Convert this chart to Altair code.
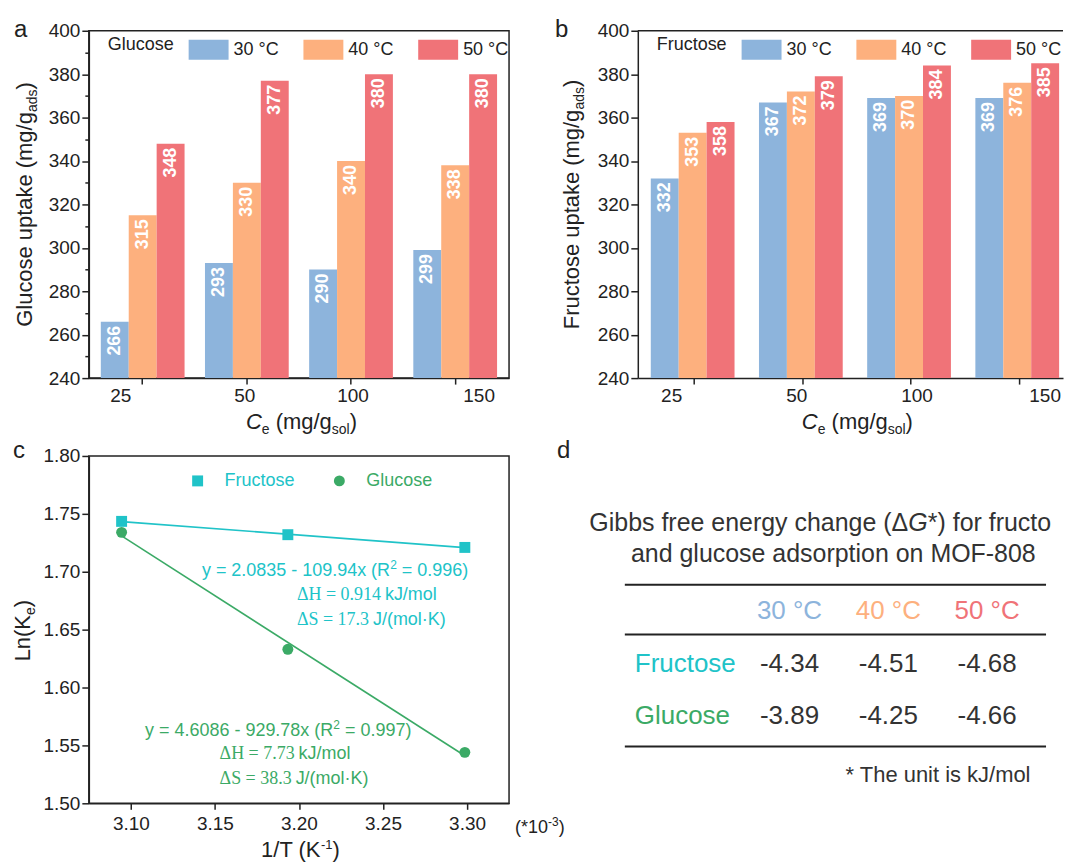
import altair as alt
import pandas as pd

# ------------------------------------------------------------------ data
concentrations = ["25", "50", "100", "150"]
temperatures = ["30 °C", "40 °C", "50 °C"]
glucose_30 = [266, 293, 290, 299]
glucose_40 = [315, 330, 340, 338]
glucose_50 = [348, 377, 380, 380]
fructose_30 = [332, 367, 369, 369]
fructose_40 = [353, 372, 370, 376]
fructose_50 = [358, 379, 384, 385]

inv_T = [3.0945, 3.1934, 3.2987]
lnK_fructose = [1.7435, 1.7320, 1.7210]
lnK_glucose = [1.7340, 1.6330, 1.5440]

sugars = ["Fructose", "Glucose"]
dG_fructose = [-4.34, -4.51, -4.68]
dG_glucose = [-3.89, -4.25, -4.66]

uptake_ticks = list(range(240, 401, 10))
invT_ticks = [3.10, 3.15, 3.20, 3.25, 3.30]
lnK_ticks = [round(1.5 + 0.025 * i, 3) for i in range(13)]

# ------------------------------------------------------------------ style
SANS = "Liberation Sans"
SERIF = "Liberation Serif"
INK = "#222222"
TEMP_COLORS = ["#8DB4DC", "#FDB07E", "#F07378"]
SUGAR_COLORS = ["#20C3C8", "#3BAA66"]
TICK_FS = 19
A_LABEL_SHIFT = [-22, -2, 2, 24]
B_LABEL_SHIFT = [-23, -6, 6, 26]

AR = {c: 556 for c in "0123456789"}
AR.update({' ': 278, '(': 333, ')': 333, '*': 389, '-': 333, '.': 278, '/': 278,
           '=': 584, '·': 278, '°': 400, 'Δ': 668, ':': 278})
AR.update(dict(zip("ABCDEFGHIJKLMNOPQRSTUVWXYZ",
                   [667, 667, 722, 722, 667, 611, 778, 722, 278, 500, 667, 556, 833,
                    722, 778, 667, 778, 722, 667, 611, 722, 667, 944, 667, 667, 611])))
AR.update(dict(zip("abcdefghijklmnopqrstuvwxyz",
                   [556, 556, 500, 556, 556, 278, 556, 556, 222, 222, 500, 222, 833,
                    556, 556, 556, 556, 333, 500, 278, 556, 500, 722, 500, 500, 500])))
TR = {c: 500 for c in "0123456789"}
TR.update({' ': 250, '.': 250, '=': 564, 'Δ': 612, 'H': 722, 'S': 556, '(': 333,
           ')': 333, '-': 333, 'C': 667, 'K': 722, '°': 400, '/': 278, '·': 250})

DUMMY = pd.DataFrame({"k": [0]})


def tw(s, size, font=SANS):
    table = TR if font == SERIF else AR
    dflt = 500 if font == SERIF else 556
    return sum(table.get(c, dflt) for c in s) * size / 1000.0


def seg(text, size, **kw):
    d = {"text": text, "size": size}
    d.update(kw)
    return d


def rich(segs, x, y, anchor="left", angle=0, color=INK, clip_at=None, x_rel=None):
    widths = [tw(s["text"], s["size"], s.get("font", SANS)) for s in segs]
    total = sum(widths)
    cur = {"left": 0.0, "center": -total / 2.0, "right": -total}[anchor]
    out = []
    for s, w in zip(segs, widths):
        font = s.get("font", SANS)
        body = s["text"].lstrip(" ")
        lead = tw(s["text"][:len(s["text"]) - len(body)], s["size"], font)
        start = cur + lead
        kw = dict(text=body, align="left", baseline="alphabetic",
                  dx=round(start, 2), dy=s.get("shift", 0), font=font,
                  fontSize=s["size"], color=s.get("color", color))
        if angle:
            kw["angle"] = angle
        if s.get("style"):
            kw["fontStyle"] = s["style"]
        if clip_at is not None and x_rel is not None:
            avail = clip_at - (x_rel + start)
            if avail < w - lead:
                kw["limit"] = max(round(avail, 1), 1)
                kw["ellipsis"] = "\u200b"
        out.append(alt.Chart(DUMMY).mark_text(**kw).encode(x=x, y=y))
        cur += w
    return out


def uptake_df(s30, s40, s50):
    rows = []
    for t, ser in zip(temperatures, [s30, s40, s50]):
        for c, v in zip(concentrations, ser):
            rows.append({"conc": c, "temp": t, "uptake": v})
    return pd.DataFrame(rows)


def uptake_y_axis():
    return alt.Axis(values=uptake_ticks,
                    labelExpr="datum.value % 20 == 0 ? datum.label : ''",
                    tickSize={"condition": {"test": "datum.value % 20 != 0", "value": 4}, "value": 7},
                    title=None, grid=False, labelOverlap=False, labelFlush=False, labelPadding=2)


def label_shift(shifts):
    return {"condition": [{"test": f"datum.label == '{c}'", "value": s}
                          for c, s in zip(concentrations, shifts)],
            "value": 0}


def bar_layers(df, xscale, legend_title, legend_x, legend_y, shifts):
    enc = dict(
        x=alt.X("conc:N", sort=concentrations, scale=xscale,
                axis=alt.Axis(title=None, labelAngle=0, tickSize=6, labelPadding=2, grid=False,
                              labelOffset=label_shift(shifts))),
        xOffset=alt.XOffset("temp:N", sort=temperatures,
                            scale=alt.Scale(paddingInner=0, paddingOuter=0)),
        y=alt.Y("uptake:Q", scale=alt.Scale(domain=[240, 400], nice=False, zero=False),
                axis=uptake_y_axis()),
    )
    legend = alt.Legend(title=legend_title, orient="none", legendX=legend_x, legendY=legend_y,
                        direction="horizontal", titleOrient="left", titleFont=SANS,
                        titleFontSize=18, titleFontWeight="normal", titleColor=INK,
                        titlePadding=14, titleBaseline="middle", titleAnchor="middle",
                        labelFont=SANS, labelFontSize=18, labelColor=INK,
                        labelOffset=5, columnPadding=24, symbolType="M-1,-0.5H1V0.5H-1Z",
                        symbolSize=1600, symbolStrokeWidth=0, symbolOpacity=1, padding=0)
    bars = alt.Chart(df).mark_bar(opacity=1).encode(
        **enc, y2=alt.datum(240),
        color=alt.Color("temp:N", sort=temperatures,
                        scale=alt.Scale(domain=temperatures, range=TEMP_COLORS), legend=legend))
    labels = alt.Chart(df).mark_text(angle=270, align="right", baseline="middle", dx=-4,
                                     font=SANS, fontSize=18, fontWeight="bold",
                                     color="white").encode(
        **enc, text=alt.Text("uptake:Q", format="d"))
    return [bars, labels]


def ce_title(cx, by):
    return rich([seg("C", 22, style="italic"), seg("e", 14, shift=5), seg(" (mg/g", 22),
                 seg("sol", 14, shift=5), seg(")", 22)],
                alt.value(cx), alt.value(by), anchor="center")


def uptake_title(name, bx, cy):
    return rich([seg(f"{name} uptake (mg/g", 22), seg("ads", 14, shift=5), seg(")", 22)],
                alt.value(bx), alt.value(cy), anchor="center", angle=270)


def letter(t, x, y):
    return rich([seg(t, 24)], alt.value(x), alt.value(y))


# ------------------------------------------------------------------ panel a
origin = alt.Chart(DUMMY).mark_rect(opacity=0).encode(
    x=alt.value(-88), x2=alt.value(-87), y=alt.value(-29), y2=alt.value(-28))

a_layers = (bar_layers(uptake_df(glucose_30, glucose_40, glucose_50),
                       alt.Scale(paddingInner=0.196, paddingOuter=0.115),
                       "Glucose", 19, -1, A_LABEL_SHIFT)
            + letter("a", -75, 6)
            + uptake_title("Glucose", -57, 174)
            + ce_title(213, 399)
            + [origin])
chart_a = alt.layer(*a_layers).properties(
    width=421, height=348, view=alt.ViewBackground(stroke=INK, strokeWidth=1.5))

# ------------------------------------------------------------------ panel b
top_rule = alt.Chart(DUMMY).mark_rule(color=INK, strokeWidth=1.5).encode(y=alt.datum(400))
b_layers = (bar_layers(uptake_df(fructose_30, fructose_40, fructose_50),
                       alt.Scale(paddingInner=0.19, paddingOuter=0.06, align=1),
                       "Fructose", 19, -1, B_LABEL_SHIFT)
            + [top_rule]
            + letter("b", -83, 6)
            + uptake_title("Fructose", -59, 174)
            + ce_title(220, 399))
chart_b = alt.layer(*b_layers).properties(width=426, height=348)

# ------------------------------------------------------------------ panel c
pts = pd.DataFrame({"sugar": ["Fructose"] * 3 + ["Glucose"] * 3,
                    "invT": inv_T * 2,
                    "lnK": lnK_fructose + lnK_glucose})
xc = alt.X("invT:Q", scale=alt.Scale(domain=[3.075, 3.325], nice=False, zero=False),
           axis=alt.Axis(values=invT_ticks, format=".2f", title=None, tickSize=6,
                         labelPadding=5, labelFlush=False, grid=False))
yc = alt.Y("lnK:Q", scale=alt.Scale(domain=[1.50, 1.80], nice=False, zero=False),
           axis=alt.Axis(values=lnK_ticks,
                         labelExpr="round(datum.value*40) % 2 == 0 ? format(datum.value, '.2f') : ''",
                         tickSize={"condition": {"test": "round(datum.value*40) % 2 != 0", "value": 4},
                                   "value": 7},
                         title=None, labelPadding=2, labelOverlap=False, labelFlush=False,
                         grid=False))
fit_lines = [alt.Chart(pts).transform_filter(alt.datum.sugar == s)
             .transform_regression("invT", "lnK")
             .mark_line(color=col, strokeWidth=1.6).encode(x=xc, y=yc)
             for s, col in zip(sugars, SUGAR_COLORS)]
c_legend = alt.Legend(title=None, orient="none", legendX=100, legendY=16, direction="horizontal",
                      labelFont=SANS, labelFontSize=18, labelOffset=18, columnPadding=35,
                      labelColor={"expr": "datum.label == 'Fructose' ? '#20C3C8' : '#3BAA66'"},
                      symbolSize=120, symbolStrokeWidth=0, symbolOpacity=1, padding=0)
points = alt.Chart(pts).mark_point(filled=True, size=120, opacity=1).encode(
    x=xc, y=yc,
    color=alt.Color("sugar:N", scale=alt.Scale(domain=sugars, range=SUGAR_COLORS), legend=c_legend),
    shape=alt.Shape("sugar:N", scale=alt.Scale(domain=sugars, range=["square", "circle"]),
                    legend=c_legend))

FC, GC = SUGAR_COLORS
c_notes = (
    rich([seg("y = 2.0835 - 109.94x (R", 18), seg("2", 12, shift=-7), seg(" = 0.996)", 18)],
         alt.datum(3.2215), alt.datum(1.6966), anchor="center", color=FC)
    + rich([seg("ΔH = 0.914 ", 18, font=SERIF), seg("kJ/mol", 18)],
           alt.datum(3.1988), alt.datum(1.6759), color=FC)
    + rich([seg("ΔS = 17.3 ", 18, font=SERIF), seg("J/(mol·K)", 18)],
           alt.datum(3.1988), alt.datum(1.6543), color=FC)
    + rich([seg("y = 4.6086 - 929.78x (R", 18), seg("2", 12, shift=-7), seg(" = 0.997)", 18)],
           alt.datum(3.1877), alt.datum(1.5578), anchor="center", color=GC)
    + rich([seg("ΔH = 7.73 ", 18, font=SERIF), seg("kJ/mol", 18)],
           alt.datum(3.1528), alt.datum(1.5379), color=GC)
    + rich([seg("ΔS = 38.3 ", 18, font=SERIF), seg("J/(mol·K)", 18)],
           alt.datum(3.1528), alt.datum(1.5164), color=GC)
)
c_layers = (fit_lines + [points] + c_notes
            + letter("c", -76, 2)
            + rich([seg("Ln(K", 22), seg("e", 14, shift=5), seg(")", 22)],
                   alt.value(-59), alt.value(175), anchor="center", angle=270)
            + rich([seg("1/T (K", 22), seg("-1", 13, shift=-8), seg(")", 22)],
                   alt.value(212), alt.value(402), anchor="center")
            + rich([seg("(*10", 18), seg("-3", 12, shift=-7), seg(")", 18)],
                   alt.value(427), alt.value(378)))
chart_c = alt.layer(*c_layers).properties(
    width=421, height=348, view=alt.ViewBackground(stroke=INK, strokeWidth=1.5))

# ------------------------------------------------------------------ panel d (table)
HEADER = "T"
row_order = [HEADER] + sugars
cells = pd.DataFrame({"row": [sugars[0]] * 3 + [sugars[1]] * 3,
                      "temp": temperatures * 2,
                      "dG": dG_fructose + dG_glucose})
heads = pd.DataFrame({"row": [HEADER] * 3, "temp": temperatures})
rowlab = pd.DataFrame({"row": sugars})

xd = alt.X("temp:N", sort=temperatures,
           scale=alt.Scale(domain=temperatures, range=[152, 350], padding=0), axis=None)
yd = alt.Y("row:N", sort=row_order,
           scale=alt.Scale(domain=row_order, range=[155, 261], padding=0), axis=None)

head_txt = alt.Chart(heads).mark_text(font=SANS, fontSize=26, align="center",
                                      baseline="middle").encode(
    x=xd, y=yd, text="temp:N",
    color=alt.Color("temp:N", scale=alt.Scale(domain=temperatures, range=TEMP_COLORS),
                    legend=None))
val_txt = alt.Chart(cells).transform_calculate(
    lbl="replace(format(datum.dG, '.2f'), '\u2212', '-')"
).mark_text(font=SANS, fontSize=26, align="center", baseline="middle",
            color="#333333").encode(x=xd, y=yd, text="lbl:N")
lab_txt = alt.Chart(rowlab).mark_text(font=SANS, fontSize=26, align="left",
                                      baseline="middle").encode(
    x=alt.value(-3), y=yd, text="row:N",
    color=alt.Color("row:N", scale=alt.Scale(domain=sugars, range=SUGAR_COLORS), legend=None))
rules = [alt.Chart(DUMMY).mark_rule(color=INK, strokeWidth=2).encode(
    x=alt.value(-13), x2=alt.value(409), y=alt.value(yy)) for yy in (129, 179, 291)]

d_layers = ([head_txt, val_txt, lab_txt] + rules
            + letter("d", -81, 2)
            + rich([seg("Gibbs free energy change (Δ", 25), seg("G", 25, style="italic"),
                    seg("*) for fructose", 25)],
                   alt.value(196), alt.value(75), anchor="center", color="#333333",
                   clip_at=426, x_rel=196)
            + rich([seg("and glucose adsorption on MOF-808", 25)],
                   alt.value(196), alt.value(106), anchor="center", color="#333333")
            + rich([seg("* The unit is kJ/mol", 22)], alt.value(394), alt.value(327),
                   anchor="right", color="#333333"))
chart_d = alt.layer(*d_layers).resolve_scale(color="independent").properties(
    width=426, height=348)

# ------------------------------------------------------------------ assemble
chart = alt.concat(chart_a, chart_b, chart_c, chart_d, columns=2,
                   spacing={"row": 78, "column": 129}, bounds="flush").resolve_scale(
    color="independent", shape="independent"
).resolve_legend(color="independent", shape="independent").properties(
    padding=0, background="white"
).configure_view(stroke="transparent").configure_axis(
    labelFont=SANS, labelFontSize=TICK_FS, labelColor=INK, domainColor=INK, domainWidth=1.5,
    tickColor=INK, tickWidth=1.5, grid=False)

chart.save("out.html", embed_options={"renderer": "svg", "actions": False})
